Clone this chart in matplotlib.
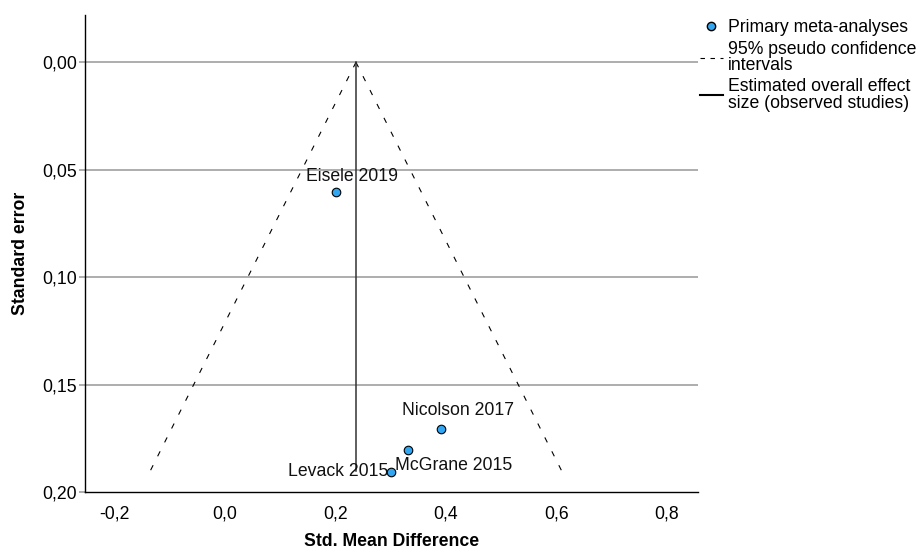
import numpy as np
import matplotlib.pyplot as plt
from matplotlib.ticker import FuncFormatter
from matplotlib.lines import Line2D

plt.rcParams['font.family'] = ['Liberation Sans', 'DejaVu Sans']

# Studies
studies = ["Eisele 2019", "Nicolson 2017", "McGrane 2015", "Levack 2015"]
smd = [0.20, 0.391, 0.331, 0.30]
se = [0.0605, 0.1707, 0.1805, 0.1905]
# label offsets (points) and alignment
offsets = [(12, 5), (12, 7), (-9, -11), (-2, 0)]
aligns = [("center", "bottom"), ("center", "bottom"), ("left", "center"), ("right", "center")]

overall = 0.237
se_max = 0.19
fs = 12.7

fig = plt.figure(figsize=(9.21, 5.52), dpi=100)
ax = fig.add_axes([0.0923, 0.1087, 0.758 - 0.0923, 0.9728 - 0.1087])

# gridlines
for yv in [0.0, 0.05, 0.10, 0.15]:
    ax.axhline(yv, color='#a0a0a0', linewidth=1.2, zorder=1)

# pseudo confidence limits
se_line = np.array([0.0, se_max])
ax.plot(overall - 1.96 * se_line, se_line, color='black', linewidth=0.8,
        dashes=(5, 9), zorder=2)
ax.plot(overall + 1.96 * se_line, se_line, color='black', linewidth=0.8,
        dashes=(5, 9), zorder=2)
ax.plot([overall, overall], [0, se_max], color='#333333', linewidth=1.1, zorder=2)

ax.scatter(smd, se, s=38, color='#33a6f2', edgecolor='black', linewidth=0.8, zorder=4)
for name, x, y, off, al in zip(studies, smd, se, offsets, aligns):
    ax.annotate(name, (x, y), xytext=off, textcoords='offset points',
                ha=al[0], va=al[1], fontsize=fs, color='#111111', zorder=5)

ax.set_xlim(-0.254, 0.857)
ax.set_ylim(0.20, -0.022)
ax.set_xticks([-0.2, 0.0, 0.2, 0.4, 0.6, 0.8])
ax.set_yticks([0.0, 0.05, 0.10, 0.15, 0.20])
ax.xaxis.set_major_formatter(FuncFormatter(lambda v, p: f"{v:.1f}".replace('.', ',')))
ax.yaxis.set_major_formatter(FuncFormatter(lambda v, p: f"{v:.2f}".replace('.', ',')))
ax.tick_params(axis='x', length=0, pad=10, labelsize=fs)
ax.tick_params(axis='y', length=4, color='#a0a0a0', width=1.2, pad=2, labelsize=fs)
for s in ['top', 'right']:
    ax.spines[s].set_visible(False)
ax.spines['left'].set_linewidth(1.0)
ax.spines['bottom'].set_linewidth(1.0)

ax.set_xlabel("Std. Mean Difference", fontsize=fs, fontweight='bold', labelpad=7)
ax.set_ylabel("Standard error", fontsize=fs, fontweight='bold', labelpad=9)

handles = [
    Line2D([], [], marker='o', linestyle='none', markerfacecolor='#33a6f2',
           markeredgecolor='black', markersize=6),
    Line2D([], [], color='black', linewidth=0.8, dashes=(4, 5)),
    Line2D([], [], color='black', linewidth=1.5),
]
labels = ["Primary meta-analyses", "95% pseudo confidence\nintervals",
          "Estimated overall effect\nsize (observed studies)"]
leg = fig.legend(handles, labels, loc='upper left', bbox_to_anchor=(0.752, 0.978),
                 frameon=False, fontsize=fs, handlelength=1.3, handletextpad=0.3,
                 labelspacing=0.25, borderaxespad=0)
for t in leg.get_texts():
    t.set_linespacing(0.95)

fig.savefig("out.png", dpi=100)
